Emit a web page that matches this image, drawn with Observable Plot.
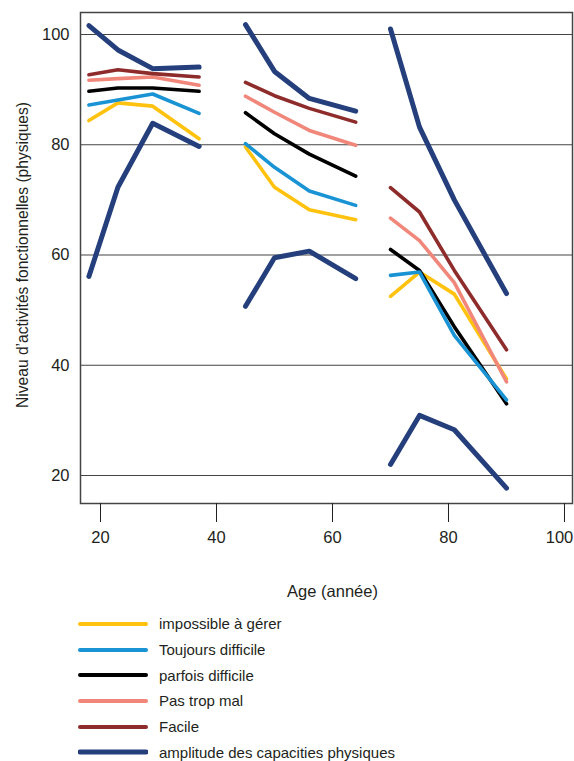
<!DOCTYPE html>
<html>
<head>
<meta charset="utf-8">
<script src="https://cdn.jsdelivr.net/npm/d3@7"></script>
<script src="https://cdn.jsdelivr.net/npm/@observablehq/plot@0.6"></script>
<style>
  body { margin: 0; background: #fff; font-family: "Liberation Sans Narrow", "Liberation Sans", Arial, sans-serif; font-stretch: condensed; color: #231f20; }
  #chart svg { display: block; overflow: visible; }
  #legend { margin-top: 1px; }
  .row { display: flex; align-items: center; height: 25.7px; padding-left: 78px; }
  .row svg { display: block; margin-right: 11px; }
  .row span { font-size: 15px; line-height: 1; }
</style>
</head>
<body>
<div id="chart"></div>
<div id="legend"></div>
<script>
// Ages (three cohorts of four measurement points)
const ages   = [18, 23, 29, 37, 45, 50, 56, 64, 70, 75, 81, 90];
const groups = [1, 1, 1, 1, 2, 2, 2, 2, 3, 3, 3, 3];

// Series values
const impossible = [84.4, 87.6, 87.0, 81.1, 79.6, 72.3, 68.2, 66.4, 52.5, 56.9, 52.9, 37.5];
const toujours   = [87.2, 88.1, 89.2, 85.7, 80.2, 75.9, 71.6, 69.0, 56.3, 56.9, 45.4, 33.7];
const parfois    = [89.7, 90.3, 90.3, 89.7, 85.8, 82.0, 78.3, 74.3, 61.0, 57.2, 47.0, 33.0];
const pasTropMal = [91.7, 92.0, 92.3, 90.8, 88.8, 85.9, 82.6, 79.9, 66.7, 62.6, 55.0, 37.0];
const facile     = [92.7, 93.6, 92.9, 92.3, 91.3, 88.9, 86.6, 84.1, 72.2, 67.8, 57.2, 42.8];
const ampHaut    = [101.6, 97.2, 93.8, 94.1, 101.8, 93.3, 88.4, 86.1, 101.0, 83.2, 70.0, 53.0];
const ampBas     = [56.1, 72.3, 83.9, 79.7, 50.7, 59.5, 60.7, 55.7, 22.0, 30.9, 28.3, 17.7];

const seriesNames = ["impossible à gérer", "Toujours difficile", "parfois difficile", "Pas trop mal", "Facile", "amplitude des capacities physiques"];
const seriesColors = ["#ffc20e", "#1a93d4", "#000000", "#f0877a", "#8e2c2c", "#243f7c"];

const xTicks = [20, 40, 60, 80, 100];
const yTicks = [20, 40, 60, 80, 100];
const xLabel = "Age (année)";
const yLabel = "Niveau d\u2019activités fonctionnelles (physiques)";

// Build long table
const table = [];
const addSeries = (values, name, key) => {
  values.forEach((v, i) => table.push({age: ages[i], value: v, series: name, key: key + "-" + groups[i]}));
};
addSeries(impossible, seriesNames[0], "imp");
addSeries(parfois, seriesNames[2], "par");
addSeries(toujours, seriesNames[1], "tou");
addSeries(pasTropMal, seriesNames[3], "pas");
addSeries(facile, seriesNames[4], "fac");
addSeries(ampHaut, seriesNames[5], "ampH");
addSeries(ampBas, seriesNames[5], "ampB");

const thin = table.filter(d => d.series !== seriesNames[5]);
const thick = table.filter(d => d.series === seriesNames[5]);

const FONT = "'Liberation Sans Narrow', 'Liberation Sans', Arial, sans-serif";
const H = 610;
const lastTick = xTicks[xTicks.length - 1];
const chart = Plot.plot({
  width: 574,
  height: H,
  marginLeft: 80,
  marginRight: 2,
  marginTop: 12,
  marginBottom: H - 503,
  style: { fontFamily: FONT, fontStretch: "condensed", fontSize: "16px", color: "#231f20", background: "#fff", overflow: "visible" },
  x: { domain: [16.55, 101.38], ticks: xTicks },
  y: { domain: [14.92, 103.99], ticks: yTicks },
  color: { domain: seriesNames, range: seriesColors },
  marks: [
    Plot.gridY(yTicks, { stroke: "#444", strokeOpacity: 1, strokeWidth: 1.2 }),
    Plot.frame({ stroke: "#444", strokeWidth: 1.5 }),
    Plot.axisY(yTicks, { tickSize: 0, tickPadding: 11, label: null, fontSize: 16.5 }),
    Plot.axisX(xTicks, { tickSize: 19, text: null, label: null, stroke: "#231f20" }),
    Plot.text(xTicks.filter(t => t !== lastTick), { x: d => d, text: d => String(d), frameAnchor: "bottom", dy: 39, fontSize: 16.5, fill: "#231f20" }),
    Plot.text([lastTick], { x: d => d, text: d => String(d), frameAnchor: "bottom", dy: 39, dx: -5, textAnchor: "middle", fontSize: 16.5, fill: "#231f20" }),
    Plot.text([xLabel], { x: () => 60, frameAnchor: "bottom", dy: 93, fontSize: 16.5, fill: "#231f20" }),
    Plot.text([yLabel], { frameAnchor: "left", dx: -58, dy: -3, rotate: -90, textAnchor: "middle", fontSize: 15.6, fill: "#231f20" }),
    Plot.line(thin, { x: "age", y: "value", z: "key", stroke: "series", strokeWidth: 3.6, strokeLinecap: "round", strokeLinejoin: "round" }),
    Plot.line(thick, { x: "age", y: "value", z: "key", stroke: "series", strokeWidth: 5, strokeLinecap: "round", strokeLinejoin: "round" })
  ]
});
document.getElementById("chart").appendChild(chart);

// Legend
const legend = d3.select("#legend");
seriesNames.forEach((name, i) => {
  const row = legend.append("div").attr("class", "row");
  const svg = row.append("svg").attr("width", 70).attr("height", 8);
  svg.append("line").attr("x1", 2).attr("x2", 68).attr("y1", 4).attr("y2", 4)
    .attr("stroke", seriesColors[i]).attr("stroke-width", i === 5 ? 5 : 4).attr("stroke-linecap", "round");
  row.append("span").text(name);
});
</script>
</body>
</html>
